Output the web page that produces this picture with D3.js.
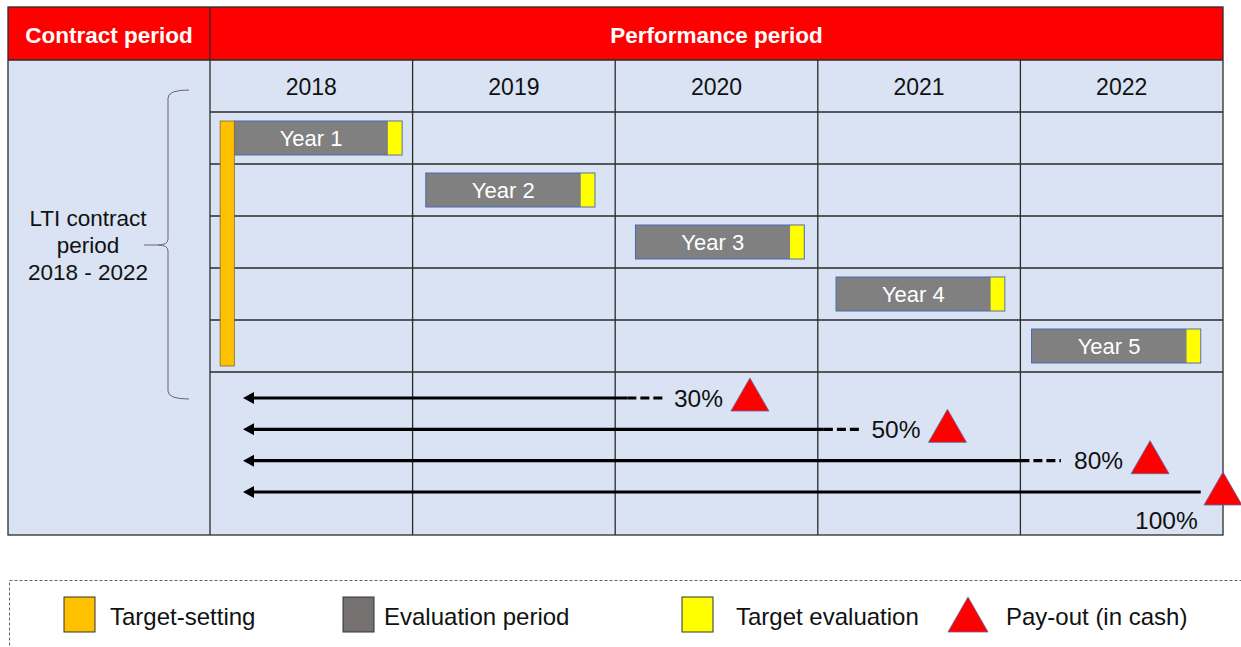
<!DOCTYPE html>
<html><head><meta charset="utf-8">
<script src="https://cdn.jsdelivr.net/npm/d3@7/dist/d3.min.js"></script>
<style>body{margin:0;background:#fff}svg{display:block;font-family:"Liberation Sans",Arial,sans-serif}</style>
</head><body><svg id="c" width="1241" height="647"></svg>
<script>
const years = [2018, 2019, 2020, 2021, 2022];
const barLabels = ["Year 1", "Year 2", "Year 3", "Year 4", "Year 5"];
const barStart = [2018.12, 2019.065, 2020.10, 2021.09, 2022.055];
const barEnd = [2018.948, 2019.90, 2020.933, 2021.923, 2022.89];
const evalWidth = 0.07;
const targetSetting = [2018.05, 2018.12];
const payoutLabels = ["30%", "50%", "80%", "100%"];
const payoutSolidEnd = [2020.06, 2021.03, 2022.0, 2022.89];
const payoutDashEnd = [2020.24, 2021.21, 2022.2, 2022.89];
const payoutMarker = [2020.665, 2021.64, 2022.64, 2023.0];
const headers = ["Contract period", "Performance period"];
const leftLabel = ["LTI contract", "period", "2018 - 2022"];
const legendItems = ["Target-setting", "Evaluation period", "Target evaluation", "Pay-out (in cash)"];

const svg = d3.select("#c");
const L = 8, R = 1223, T = 7, H1 = 60, H2 = 112, B = 535, CX = 210;
const x = d3.scaleLinear().domain([2018, 2023]).range([CX, R]);
const yRow = d3.scaleBand().domain(barLabels).range([H2, 372]);
const yPay = d3.scalePoint().domain(payoutLabels).range([398, 492]);

const RED = "#ff0000", BG = "#dae3f3", GRID = "#2b2b2b";

// background
svg.append("rect").attr("x", L).attr("y", H1).attr("width", R - L).attr("height", B - H1).attr("fill", BG);
svg.append("rect").attr("x", L).attr("y", T).attr("width", R - L).attr("height", H1 - T).attr("fill", RED);

// grid lines
const g = svg.append("g").attr("stroke", GRID).attr("stroke-width", 1.3).attr("fill", "none");
const rowLines = [H2].concat(barLabels.map(d => yRow(d) + yRow.bandwidth()));
g.selectAll("line.h").data(rowLines).join("line").attr("x1", CX).attr("x2", R).attr("y1", d => d).attr("y2", d => d);
g.selectAll("line.v").data(years.slice(1)).join("line").attr("x1", d => x(d)).attr("x2", d => x(d)).attr("y1", H1).attr("y2", B);
g.append("line").attr("x1", CX).attr("x2", CX).attr("y1", T).attr("y2", B);
g.append("line").attr("x1", L).attr("x2", R).attr("y1", H1).attr("y2", H1);
g.append("rect").attr("x", L).attr("y", T).attr("width", R - L).attr("height", B - T);

// headers
svg.append("text").attr("x", (L + CX) / 2).attr("y", 35).attr("text-anchor", "middle").attr("dominant-baseline", "central")
  .attr("fill", "#fff").attr("font-weight", "bold").attr("font-size", 22.5).text(headers[0]);
svg.append("text").attr("x", (CX + R) / 2).attr("y", 35).attr("text-anchor", "middle").attr("dominant-baseline", "central")
  .attr("fill", "#fff").attr("font-weight", "bold").attr("font-size", 22.5).text(headers[1]);

// year labels
svg.selectAll("text.yr").data(years).join("text").attr("x", d => x(d + 0.5)).attr("y", 87)
  .attr("text-anchor", "middle").attr("dominant-baseline", "central").attr("font-size", 23).attr("fill", "#111").text(d => d);

// left label
svg.selectAll("text.ll").data(leftLabel).join("text").attr("x", 88).attr("y", (d, i) => 218 + i * 27)
  .attr("text-anchor", "middle").attr("dominant-baseline", "central").attr("font-size", 22.5).attr("fill", "#111").text(d => d);

// brace
const bx = 189, bt = 90, bb = 399, bm = 245, bi = 168, tip = 144;
svg.append("path").attr("fill", "none").attr("stroke", "#666").attr("stroke-width", 1)
  .attr("d", `M${bx},${bt} Q${bi},${bt} ${bi},${bt + 8} L${bi},${bm - 6} Q${bi},${bm} ${tip + 14},${bm} L${tip},${bm} M${tip + 14},${bm} Q${bi},${bm} ${bi},${bm + 6} L${bi},${bb - 8} Q${bi},${bb} ${bx},${bb}`);

// bars
const bars = svg.append("g");
const bh = 34;
barLabels.forEach((lab, i) => {
  const y0 = yRow(lab) + (yRow.bandwidth() - bh) / 2;
  bars.append("rect").attr("x", x(barStart[i])).attr("y", y0).attr("width", x(barEnd[i]) - x(barStart[i])).attr("height", bh)
    .attr("fill", "#808080").attr("stroke", "#4a6bb0").attr("stroke-width", 1);
  bars.append("rect").attr("x", x(barEnd[i] - evalWidth)).attr("y", y0 + 0.5).attr("width", x(barEnd[i]) - x(barEnd[i] - evalWidth) - 0.5).attr("height", bh - 1)
    .attr("fill", "#ffff00");
  bars.append("text").attr("x", (x(barStart[i]) + x(barEnd[i] - evalWidth)) / 2).attr("y", y0 + bh / 2)
    .attr("text-anchor", "middle").attr("dominant-baseline", "central").attr("fill", "#fff").attr("font-size", 22).text(lab);
});
// target-setting bar
const tsTop = yRow(barLabels[0]) + (yRow.bandwidth() - bh) / 2;
const tsBot = yRow(barLabels[4]) + (yRow.bandwidth() - bh) / 2 + bh + 3;
svg.append("rect").attr("x", x(targetSetting[0])).attr("y", tsTop).attr("width", x(targetSetting[1]) - x(targetSetting[0])).attr("height", tsBot - tsTop)
  .attr("fill", "#ffc000").attr("stroke", "#7a6a3a").attr("stroke-width", 0.8);

// payout arrows
const ax = 243;
const tri = (cx, base, w, h) => `M${cx - w / 2},${base} L${cx},${base - h} L${cx + w / 2},${base} Z`;
payoutLabels.forEach((lab, i) => {
  const y = yPay(lab);
  svg.append("line").attr("x1", ax + 8).attr("x2", x(payoutSolidEnd[i])).attr("y1", y).attr("y2", y).attr("stroke", "#000").attr("stroke-width", 3.2);
  svg.append("path").attr("d", `M${ax},${y} L${ax + 11},${y - 6} L${ax + 11},${y + 6} Z`).attr("fill", "#000");
  if (payoutDashEnd[i] > payoutSolidEnd[i]) {
    svg.append("line").attr("x1", x(payoutSolidEnd[i])).attr("x2", x(payoutDashEnd[i])).attr("y1", y).attr("y2", y)
      .attr("stroke", "#000").attr("stroke-width", 3.2).attr("stroke-dasharray", "9,4");
  }
  const mx = x(payoutMarker[i]);
  svg.append("path").attr("d", tri(mx, y + 13, 38, 33)).attr("fill", RED).attr("stroke", "#5b6aa8").attr("stroke-width", 0.8);
  if (i < 3) {
    svg.append("text").attr("x", mx - 27).attr("y", y).attr("text-anchor", "end").attr("dominant-baseline", "central")
      .attr("font-size", 24.5).attr("fill", "#111").text(lab);
  } else {
    svg.append("text").attr("x", x(payoutSolidEnd[i]) - 3).attr("y", y + 28).attr("text-anchor", "end").attr("dominant-baseline", "central")
      .attr("font-size", 24.5).attr("fill", "#111").text(lab);
  }
});

// legend
svg.append("rect").attr("x", 9.5).attr("y", 580.5).attr("width", 1260).attr("height", 100).attr("fill", "none")
  .attr("stroke", "#666").attr("stroke-width", 1).attr("stroke-dasharray", "3,2");
const legX = [64, 343, 682, 948];
const legTextX = [110, 384, 736, 1006];
const legFill = ["#ffc000", "#767171", "#ffff00", RED];
legendItems.forEach((t, i) => {
  if (i < 3) {
    svg.append("rect").attr("x", legX[i]).attr("y", 597).attr("width", 31).attr("height", 35).attr("fill", legFill[i]).attr("stroke", "#333").attr("stroke-width", 1);
  } else {
    svg.append("path").attr("d", tri(legX[i] + 20, 632, 40, 35)).attr("fill", legFill[i]).attr("stroke", "#5b6aa8").attr("stroke-width", 0.8);
  }
  svg.append("text").attr("x", legTextX[i]).attr("y", 616).attr("dominant-baseline", "central").attr("font-size", 24).attr("fill", "#111").text(t);
});
</script></body></html>
